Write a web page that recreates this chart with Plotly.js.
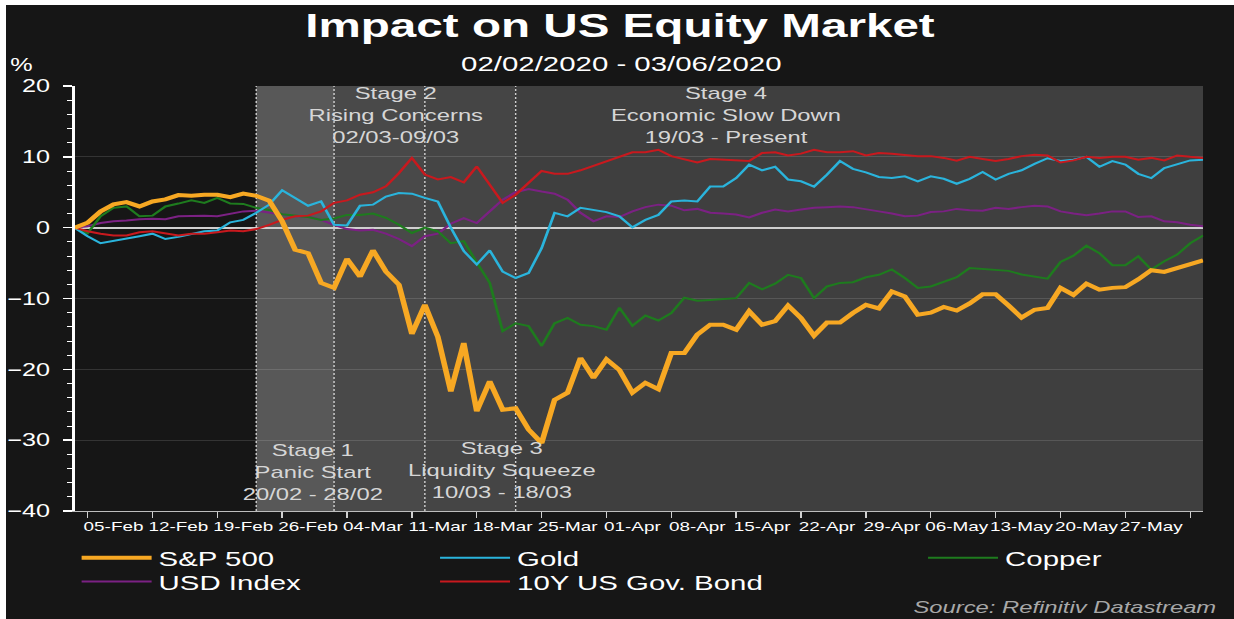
<!DOCTYPE html>
<html><head><meta charset="utf-8">
<script src="https://cdn.plot.ly/plotly-3.0.1.min.js"></script>
<style>
html,body{margin:0;padding:0;background:#ffffff;width:1234px;height:619px;overflow:hidden;}
#wrap{position:absolute;left:6px;top:5px;width:1228px;height:614px;background:#161616;overflow:hidden;}
#chart{position:absolute;left:0;top:0;width:877px;height:614px;transform:scaleX(1.4002);transform-origin:0 0;}
</style></head>
<body><div id="wrap"><div id="chart"></div></div>
<script>
// Business-day series (31-Jan-2020 = 0 ... 02-Jun-2020), % change
const weekLabels = ['05-Feb','12-Feb','19-Feb','26-Feb','04-Mar','11-Mar','18-Mar','25-Mar','01-Apr','08-Apr','15-Apr','22-Apr','29-Apr','06-May','13-May','20-May','27-May'];

const sp500 = [0,0.7,2.3,3.3,3.6,3.0,3.7,4.0,4.6,4.5,4.65,4.65,4.3,4.8,4.5,3.8,0.9,-3.1,-3.6,-7.8,-8.5,-4.4,-6.9,-3.2,-6.2,-8.05,-15.0,-10.9,-15.4,-23.1,-16.3,-25.9,-21.7,-25.7,-25.5,-28.5,-30.4,-24.3,-23.3,-18.4,-21.2,-18.6,-20.1,-23.3,-21.9,-22.8,-17.7,-17.7,-15.1,-13.7,-13.7,-14.4,-11.8,-13.7,-13.2,-11.0,-12.75,-15.25,-13.4,-13.4,-12.05,-10.9,-11.4,-9.0,-9.7,-12.3,-12.0,-11.2,-11.7,-10.7,-9.4,-9.4,-11.0,-12.7,-11.6,-11.35,-8.5,-9.5,-7.9,-8.75,-8.5,-8.4,-7.3,-6.0,-6.25,-5.7,-5.2,-4.6];

const gold = [0,-1.2,-2.2,-1.9,-1.5,-1.2,-0.85,-1.6,-1.3,-0.85,-0.5,-0.4,0.75,1.1,2.1,3.25,5.3,4.2,3.1,3.7,0.4,0.3,3.1,3.25,4.4,4.9,4.8,4.2,3.7,0,-3.3,-5.2,-3.2,-6.2,-7.1,-6.4,-2.9,2.1,1.6,2.8,2.55,2.2,1.6,0.05,1.1,1.8,3.7,3.85,3.7,5.8,5.8,7.0,8.9,8.1,8.6,6.8,6.55,5.8,7.5,9.4,8.3,7.8,7.15,7.0,7.25,6.55,7.25,6.9,6.2,6.9,7.85,6.8,7.6,8.1,9.0,9.8,9.4,9.6,10.0,8.6,9.4,8.9,7.6,7.0,8.4,9.0,9.5,9.6];

const copper = [0,-0.8,1.6,2.8,3.0,1.6,1.7,3.0,3.4,3.85,3.5,4.2,3.4,3.35,2.8,2.5,1.9,1.7,1.5,1.1,1.3,1.8,1.8,2.0,1.4,0.4,-0.75,0,-0.5,-2.2,-1.9,-4.9,-7.8,-14.6,-13.5,-13.9,-16.7,-13.5,-12.75,-13.7,-13.9,-14.4,-11.3,-13.85,-12.4,-13.1,-12.05,-9.9,-10.3,-10.2,-10.1,-9.95,-7.8,-8.7,-7.9,-6.65,-7.1,-9.95,-8.3,-7.8,-7.7,-7.0,-6.65,-5.9,-7.1,-8.5,-8.3,-7.7,-7.0,-5.7,-5.85,-6.0,-6.1,-6.6,-6.9,-7.2,-4.85,-3.95,-2.55,-3.6,-5.3,-5.3,-4.05,-5.9,-4.75,-3.8,-2.2,-1.1];

const usdIndex = [0,0.2,0.65,0.9,1.0,1.2,1.25,1.2,1.6,1.7,1.7,1.6,2.0,2.3,2.4,2.1,1.85,1.6,1.6,1.1,0.4,-0.2,-0.4,-0.3,-0.85,-1.6,-2.6,-1.2,-0.85,0.55,1.35,0.65,2.3,3.95,5.0,5.45,5.1,4.8,3.95,2.1,0.9,1.6,1.5,2.3,2.9,3.25,3.1,2.45,2.65,2.1,2.0,1.85,1.45,2.1,2.55,2.3,2.55,2.8,2.9,3.0,2.9,2.55,2.3,2.0,1.6,1.7,2.2,2.3,2.65,2.45,2.4,2.8,2.65,2.9,3.1,3.0,2.3,2.0,1.75,2.0,2.3,2.3,1.5,1.6,0.9,0.75,0.4,0.2];

const us10y = [0,-0.5,-0.85,-1.1,-1.1,-0.65,-0.5,-0.75,-1.1,-0.85,-0.85,-0.65,-0.4,-0.5,-0.2,0.4,1.1,1.6,1.7,2.3,3.5,3.85,4.65,5.0,5.85,7.7,9.85,7.5,6.8,7.15,6.4,8.65,6.1,3.5,4.65,6.3,8.0,7.6,7.6,8.1,8.75,9.45,10.1,10.65,10.65,11.0,10.1,9.6,9.2,9.7,9.6,9.4,9.4,10.55,10.65,10.2,10.45,11.0,10.65,10.65,10.8,10.2,10.55,10.45,10.3,10.1,10.1,9.85,9.45,10.0,9.7,9.4,9.7,10.1,10.3,10.2,9.2,9.5,10.0,9.85,10.0,10.0,9.6,9.85,9.5,10.2,10.0,9.85];

// Stage start positions (business-day index): 20/02, 02/03, 10/03, 19/03
const stageStart = [14, 20, 27, 34];
const stageNames = ['Stage 1<br>Panic Start<br>20/02 - 28/02','Stage 2<br>Rising Concerns<br>02/03-09/03','Stage 3<br>Liquidity Squeeze<br>10/03 - 18/03','Stage 4<br>Economic Slow Down<br>19/03 - Present'];

const n = sp500.length;
const idx = sp500.map((_, i) => i);
const lastIdx = n - 1;
const mondayTicks = weekLabels.map((_, k) => 1 + 5 * k).concat([1 + 5 * weekLabels.length]);
const wedTicks = weekLabels.map((_, k) => 3 + 5 * k);

const FONT = 'Liberation Sans, Arial, sans-serif';

function tr(name, y, color, width, legend) {
  return {x: idx, y: y, name: name, type: 'scatter', mode: 'lines',
    line: {color: color, width: width}, legend: legend, hoverinfo: 'skip'};
}
const traces = [
  tr('USD Index', usdIndex, '#7B2183', 2, 'legend4'),
  tr('Copper', copper, '#1E7B1E', 2, 'legend3'),
  tr('Gold', gold, '#2AB4DC', 2, 'legend2'),
  tr('10Y US Gov. Bond', us10y, '#C8191E', 2, 'legend5'),
  tr('S&P 500', sp500, '#F7A823', 4, 'legend'),
  {x: [0], y: [null], xaxis: 'x2', showlegend: false, hoverinfo: 'skip', mode: 'lines'}
];

const bandColors = ['#585858', '#494949', '#454545', '#3f3f3f'];
const shapes = [];
stageStart.forEach((s, k) => {
  const e = k < stageStart.length - 1 ? stageStart[k + 1] : lastIdx;
  shapes.push({type: 'rect', xref: 'x', yref: 'paper', x0: s, x1: e, y0: 0, y1: 1,
    fillcolor: bandColors[k], line: {width: 0}, layer: 'below'});
});
stageStart.forEach(s => {
  shapes.push({type: 'line', xref: 'x', yref: 'paper', x0: s, x1: s, y0: 0, y1: 1,
    line: {color: 'rgba(235,235,235,0.85)', width: 1, dash: '2px,2px'}, layer: 'below'});
});

const stagePos = [[18.4, -34.6], [24.8, 15.8], [32.9, -34.3], [50.2, 15.8]];
const annotations = stageNames.map((t, k) => ({
  text: t, x: stagePos[k][0], y: stagePos[k][1], xref: 'x', yref: 'y',
  showarrow: false, xanchor: 'center', yanchor: 'middle', align: 'center',
  font: {family: FONT, size: 17, color: '#d6d6d6'}
}));
annotations.push({text: '02/02/2020 - 03/06/2020', xref: 'paper', yref: 'paper', x: 0.4842, y: 1.054,
  showarrow: false, xanchor: 'center', yanchor: 'middle', font: {family: FONT, size: 21, color: '#ffffff'}});
annotations.push({text: '%', xref: 'paper', yref: 'paper', x: -0.0466, y: 1.049,
  showarrow: false, xanchor: 'center', yanchor: 'middle', font: {family: FONT, size: 18, color: '#ffffff'}});
annotations.push({text: 'Source: Refinitiv Datastream', xref: 'paper', yref: 'paper', x: 1.0133, y: -0.228,
  showarrow: false, xanchor: 'right', yanchor: 'middle', font: {family: FONT, size: 17, color: '#a8a8a8', style: 'italic'}});

function leg(x, y) {
  return {x: x, y: y, xanchor: 'left', yanchor: 'middle', orientation: 'v', bgcolor: 'rgba(0,0,0,0)',
    borderwidth: 0, itemwidth: 50, font: {family: FONT, size: 21, color: '#ffffff'}};
}

const layout = {
  width: 877, height: 614,
  margin: {l: 49, r: 22, t: 81, b: 108},
  paper_bgcolor: '#161616', plot_bgcolor: '#161616',
  font: {family: FONT, color: '#ffffff'},
  title: {text: 'Impact on US Equity Market', x: 0.5, xanchor: 'center', y: 0.967, yanchor: 'middle',
    font: {family: FONT, size: 34, color: '#ffffff', weight: 'bold'}},
  xaxis: {range: [0, lastIdx], tickmode: 'array', tickvals: mondayTicks, showticklabels: false,
    ticks: 'outside', ticklen: 6, tickwidth: 1, tickcolor: '#d0d0d0', showgrid: false, zeroline: false,
    showline: true, linecolor: '#bdbdbd', linewidth: 1, fixedrange: true},
  xaxis2: {range: [0, lastIdx], overlaying: 'x', anchor: 'y', side: 'bottom', tickmode: 'array',
    tickvals: wedTicks, ticktext: weekLabels, ticks: '', showgrid: false, zeroline: false, showline: false,
    tickangle: 0, tickfont: {family: FONT, size: 13.5, color: '#ffffff'}, ticklabelstandoff: 6},
  yaxis: {range: [-40, 20], tickmode: 'linear', tick0: 0, dtick: 10, ticks: 'outside', ticklen: 6,
    tickwidth: 1.5, tickcolor: '#ffffff', showline: true, linecolor: '#ffffff', linewidth: 2,
    gridcolor: 'rgba(255,255,255,0.13)', gridwidth: 1, zeroline: true, zerolinecolor: '#cfcfcf', zerolinewidth: 2,
    tickfont: {family: FONT, size: 18, color: '#ffffff'}, ticklabelstandoff: 6,
    minor: {dtick: 2, ticks: 'outside', ticklen: 3.5, tickcolor: '#ffffff', tickwidth: 1, showgrid: false}},
  showlegend: true,
  legend: leg(0.0, -0.1106),
  legend2: leg(0.3176, -0.1106),
  legend3: leg(0.750, -0.1106),
  legend4: leg(0.0, -0.167),
  legend5: leg(0.3176, -0.167),
  shapes: shapes,
  annotations: annotations
};

Plotly.newPlot('chart', traces, layout, {displayModeBar: false, staticPlot: true});
</script>
</body></html>
